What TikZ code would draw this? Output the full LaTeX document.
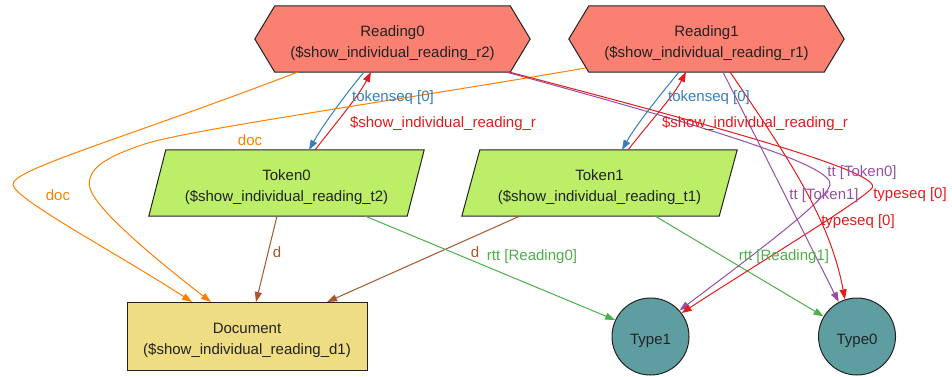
\documentclass[tikz,border=0pt]{standalone}
\usepackage{fontspec}
\setmainfont{Liberation Sans}
\usetikzlibrary{arrows.meta,calc,backgrounds}
\definecolor{cRed}{HTML}{E41A1C}
\definecolor{cBlue}{HTML}{377EB8}
\definecolor{cGreen}{HTML}{4DAF4A}
\definecolor{cPurple}{HTML}{984EA3}
\definecolor{cOrange}{HTML}{FF7F00}
\definecolor{cBrown}{HTML}{A65628}
\definecolor{fSalmon}{HTML}{FA8072}
\definecolor{fToken}{HTML}{BCEE68}
\definecolor{fDoc}{HTML}{EEDD82}
\definecolor{fType}{HTML}{5F9EA0}
\definecolor{ink}{HTML}{222222}
\newcommand\tallstrut{\rule{0pt}{19pt}}
\begin{document}
\begin{tikzpicture}[x=1pt,y=-1pt,
  lbl/.style={font=\fontsize{15}{18}\selectfont, inner sep=0pt},
  ntext/.style={font=\fontsize{15}{21}\selectfont, align=center, text=ink, inner sep=0pt, minimum height=66pt, minimum width=275pt},
  shapeline/.style={draw=ink, line width=1pt},
  roundnode/.style={circle, font=\fontsize{15}{21}\selectfont, text=ink, inner sep=0pt, minimum size=77pt, fill=fType, draw=ink, line width=1pt},
  edgeline/.style={line width=1pt, -{Triangle[length=10pt,width=7pt]}},
]
\useasboundingbox (0,0) rectangle (952,376);

% nodes
\node[ntext] (r0) at (392.5,39) {\tallstrut Reading0\\(\$show\_individual\_reading\_r2)};
\node[ntext] (r1) at (706.5,39) {\tallstrut Reading1\\(\$show\_individual\_reading\_r1)};
\node[ntext] (t0) at (286.5,183) {\tallstrut Token0\\(\$show\_individual\_reading\_t2)};
\node[ntext] (t1) at (599.5,183) {\tallstrut Token1\\(\$show\_individual\_reading\_t1)};
\node[ntext, minimum width=240pt, minimum height=68pt, draw=ink, line width=1pt, fill=fDoc] (doc) at (247,336) {\tallstrut Document\\(\$show\_individual\_reading\_d1)};
\node[roundnode] (ty1) at (650.5,336.5) {\tallstrut Type1};
\node[roundnode] (ty0) at (857,336.5) {\tallstrut Type0};

\begin{scope}[on background layer]
\filldraw[shapeline, fill=fSalmon] (r0.west) -- ([xshift=20pt]r0.north west) -- ([xshift=-20pt]r0.north east) -- (r0.east) -- ([xshift=-20pt]r0.south east) -- ([xshift=20pt]r0.south west) -- cycle;
\filldraw[shapeline, fill=fSalmon] (r1.west) -- ([xshift=20pt]r1.north west) -- ([xshift=-20pt]r1.north east) -- (r1.east) -- ([xshift=-20pt]r1.south east) -- ([xshift=20pt]r1.south west) -- cycle;
\filldraw[shapeline, fill=fToken] ([xshift=17pt]t0.north west) -- (t0.north east) -- ([xshift=-17pt]t0.south east) -- (t0.south west) -- cycle;
\filldraw[shapeline, fill=fToken] ([xshift=18pt]t1.north west) -- (t1.north east) -- ([xshift=-18pt]t1.south east) -- (t1.south west) -- cycle;
\end{scope}

% edges Reading0 <-> Token0
\draw[edgeline, cBlue] ($(r0)+(-28.5,33)$) .. controls (345,95) and (323,125) .. ($(t0)+(22.5,-33)$);
\draw[edgeline, cRed] ($(t0)+(28.5,-33)$) .. controls (335,124) and (358,97) .. ($(r0)+(-21.5,33)$);
% edges Reading1 <-> Token1
\draw[edgeline, cBlue] ($(r1)+(-27.5,33)$) .. controls (660,95) and (636,125) .. ($(t1)+(22.5,-33)$);
\draw[edgeline, cRed] ($(t1)+(28.5,-33)$) .. controls (648,124) and (673,97) .. ($(r1)+(-20.5,33)$);

% doc edges
\draw[edgeline, cOrange] ($(r0)+(-94.5,33)$) .. controls (120,140) and (10,170) .. (13,185) .. controls (16,200) and (120,255) .. ($(doc)+(-55,-34)$);
\draw[edgeline, cOrange] ($(r1)+(-121,29)$) .. controls (400,100) and (200,128) .. (148,143) .. controls (110,155) and (85,168) .. (90,188) .. controls (95,208) and (150,255) .. ($(doc)+(-36,-34)$);

% d edges
\draw[edgeline, cBrown] ($(t0)+(-9.5,33)$) -- ($(doc)+(9,-34)$);
\draw[edgeline, cBrown] ($(t1)+(-79.5,33)$) -- ($(doc)+(80,-34)$);

% rtt edges
\draw[edgeline, cGreen] ($(t0)+(78.5,33)$) -- (ty1.155);
\draw[edgeline, cGreen] ($(t1)+(55.5,33)$) -- (ty0.149);

% tt / typeseq from Reading0
\draw[edgeline, cPurple] ($(r0)+(113.5,33)$) .. controls (700,125) and (835,165) .. (830,185) .. controls (826,200) and (760,250) .. (ty1.42);
\draw[edgeline, cRed] ($(r0)+(116.5,33)$) .. controls (700,122) and (885,172) .. (872,188) .. controls (860,202) and (760,262) .. (ty1.37);

% tt / typeseq from Reading1
\draw[edgeline, cPurple] ($(r1)+(16.5,33)$) -- (ty0.118);
\draw[edgeline, cRed] ($(r1)+(23.5,33)$) .. controls (790,160) and (830,220) .. (ty0.108);

% labels
\node[lbl, text=cBlue] (lb1) at (393,98) {tokenseq [0]};
\node[lbl, text=cRed] (lb2) at (443,123) {\$show\_individual\_reading\_r};
\node[lbl, text=cBlue] (lb3) at (709,98) {tokenseq [0]};
\node[lbl, text=cRed] (lb4) at (755,123) {\$show\_individual\_reading\_r};
\node[lbl, text=cOrange] (lb5) at (58,195) {doc};
\node[lbl, text=cOrange] (lb6) at (250,140) {doc};
\node[lbl, text=cBrown] (lb7) at (277,252) {d};
\node[lbl, text=cBrown] (lb8) at (475,252) {d};
\node[lbl, text=cGreen] (lb9) at (532,257) {rtt [Reading0]};
\node[lbl, text=cGreen] (lb10) at (784,257) {rtt [Reading1]};
\node[lbl, text=cPurple] (lb11) at (862,173) {tt [Token0]};
\node[lbl, text=cPurple] (lb12) at (824,196) {tt [Token1]};
\node[lbl, text=cRed] (lb13) at (910,195) {typeseq [0]};
\node[lbl, text=cRed] (lb14) at (858,222) {typeseq [0]};
\end{tikzpicture}
\end{document}
